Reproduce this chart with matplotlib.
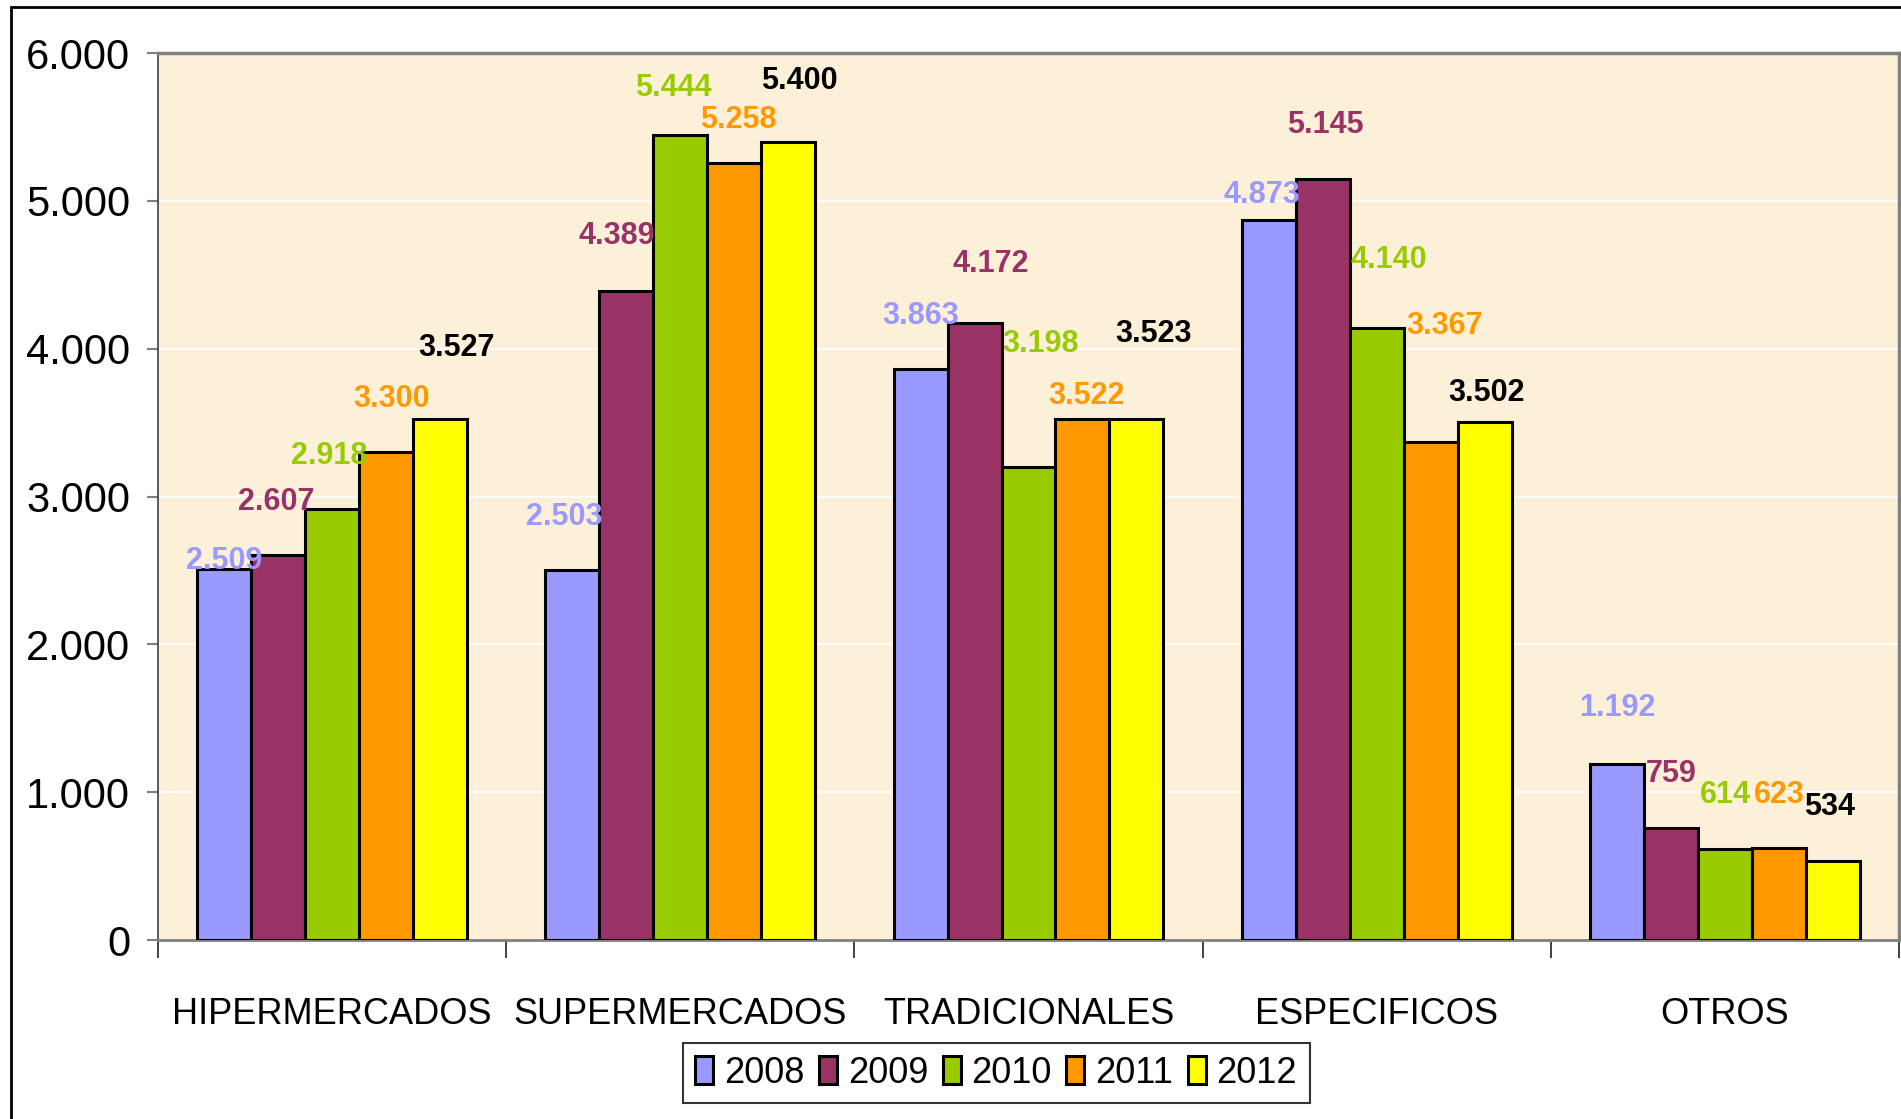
"""Ventas por formato comercial, 2008-2012."""

import numpy as np
import matplotlib
matplotlib.use("Agg")
import matplotlib.pyplot as plt
from matplotlib.patches import Rectangle
from matplotlib.ticker import FuncFormatter

plt.rcParams["font.family"] = ["Liberation Sans", "DejaVu Sans"]

categories = ["HIPERMERCADOS", "SUPERMERCADOS", "TRADICIONALES", "ESPECIFICOS", "OTROS"]
years = ["2008", "2009", "2010", "2011", "2012"]

v2008 = [2509, 2503, 3863, 4873, 1192]
v2009 = [2607, 4389, 4172, 5145, 759]
v2010 = [2918, 5444, 3198, 4140, 614]
v2011 = [3300, 5258, 3522, 3367, 623]
v2012 = [3527, 5400, 3523, 3502, 534]
series = [v2008, v2009, v2010, v2011, v2012]

bar_colors = ["#9999FF", "#993366", "#99CC00", "#FF9900", "#FFFF00"]
label_colors = ["#9999FF", "#993366", "#99CC00", "#FF9900", "#000000"]

# label offsets (points) per year, per category -- placed by hand in the original
label_offsets = [
    [(0, 6), (-6, 38), (0, 38), (-5, 18), (0, 40)],
    [(-1, 38), (-7, 40), (12, 43), (2, 39), (0, 39)],
    [(-2, 38), (-5, 34), (9, 89), (9, 49), (0, 39)],
    [(4, 38), (3, 31), (3, 17), (10, 84), (0, 38)],
    [(12, 51), (8, 44), (12, 61), (1, 21), (-2, 39)],
]


def fmt_thousands(v, _pos=None):
    return f"{int(round(v)):,}".replace(",", ".")


fig = plt.figure(figsize=(19.01, 11.19), dpi=100)
ax = fig.add_axes([158 / 1901, 179 / 1119, 1741 / 1901, (940 - 53) / 1119])
ax.set_facecolor("#FDF0D8")

x = np.arange(len(categories))
width = 0.155
n = len(series)

for i, (vals, col) in enumerate(zip(series, bar_colors)):
    pos = x + (i - (n - 1) / 2) * width
    ax.bar(pos, vals, width=width, color=col, edgecolor="black",
           linewidth=2.2, label=years[i], zorder=3)
    for j, v in enumerate(vals):
        dx, dy = label_offsets[i][j]
        ax.annotate(fmt_thousands(v), xy=(pos[j], v), xytext=(dx, dy),
                    textcoords="offset points", ha="center", va="center",
                    fontsize=22, fontweight="bold", color=label_colors[i],
                    zorder=4)

ax.set_xlim(-0.5, len(categories) - 0.5)
ax.set_ylim(0, 6000)
ax.set_yticks(np.arange(0, 6001, 1000))
ax.yaxis.set_major_formatter(FuncFormatter(fmt_thousands))
ax.grid(axis="y", color="white", linewidth=1.2, zorder=1)

ax.set_xticks(x)
ax.set_xticklabels(categories)
ax.set_xticks(np.arange(-0.5, len(categories)), minor=True)
ax.tick_params(axis="x", which="major", length=0, pad=41, labelsize=26)
ax.tick_params(axis="x", which="minor", length=13, width=1.2,
               color="#202020", direction="out")
ax.tick_params(axis="y", length=8, width=1.5, color="#808080", pad=12,
               labelsize=30)

for side in ("top", "right"):
    ax.spines[side].set_color("#808080")
    ax.spines[side].set_linewidth(2.5)
ax.spines["left"].set_color("#404040")
ax.spines["left"].set_linewidth(1.2)
ax.spines["bottom"].set_color("#808080")
ax.spines["bottom"].set_linewidth(2)

# outer chart frame
fig.patches.append(Rectangle((11 / 1901, -0.05), 1.2, 1.05 - 7 / 1119,
                             transform=fig.transFigure, fill=False,
                             edgecolor="black", linewidth=2, zorder=0))

leg = fig.legend(loc="upper center", bbox_to_anchor=(0.524, 1 - 1043 / 1119),
                 ncol=5, fontsize=26, frameon=True, fancybox=False,
                 edgecolor="black", handlelength=0.5, handleheight=0.8,
                 handletextpad=0.3, columnspacing=0.4, borderpad=0.35,
                 borderaxespad=0)
leg.get_frame().set_linewidth(1.5)

fig.savefig("out.png", dpi=100)
